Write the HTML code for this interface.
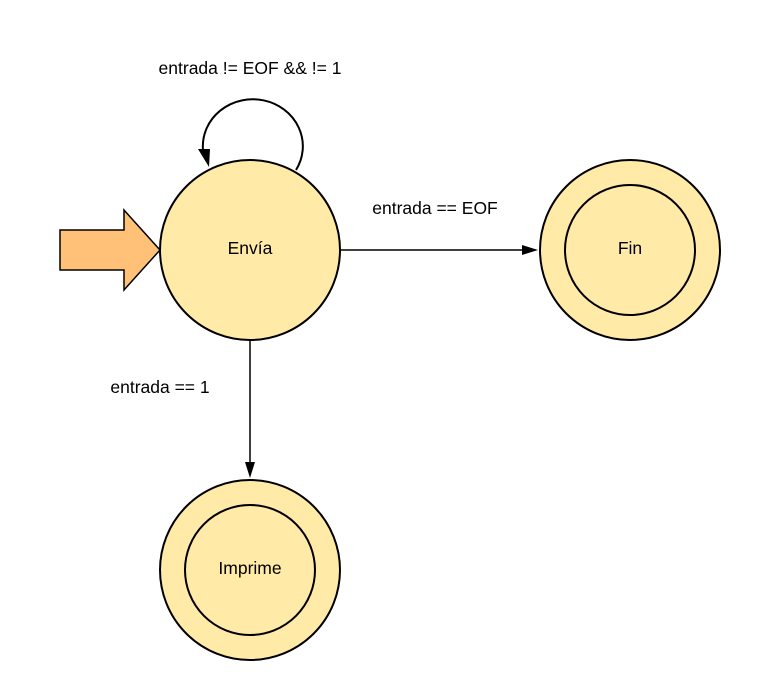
<!DOCTYPE html>
<html><head><meta charset="utf-8"><style>body{margin:0;background:#fff;overflow:hidden}svg{display:block}</style></head><body>
<svg width="760" height="700" viewBox="0 0 760 700" xmlns="http://www.w3.org/2000/svg" font-family="Liberation Sans, sans-serif" font-size="17.5">
<rect width="760" height="700" fill="#fff"/>
<polygon points="60,230 124,230 124,210 160,250 124,290 124,270 60,270" fill="#ffc177" stroke="#000" stroke-width="1.5"/>
<path d="M296,170 A50,47 0 1 0 203,150" fill="none" stroke="#000" stroke-width="2"/>
<polygon points="198,149 210,149 209,167" fill="#000"/>
<line x1="340" y1="250" x2="524" y2="250" stroke="#000" stroke-width="1.5"/>
<polygon points="522,245 538,250 522,255" fill="#000"/>
<line x1="250" y1="340" x2="250" y2="464" stroke="#000" stroke-width="1.5"/>
<polygon points="245,462 250,478 255,462" fill="#000"/>
<circle cx="250" cy="250" r="90" fill="#ffeaa8" stroke="#000" stroke-width="2"/>
<circle cx="630" cy="250" r="90" fill="#ffeaa8" stroke="#000" stroke-width="2"/>
<circle cx="630" cy="250" r="65" fill="#ffeaa8" stroke="#000" stroke-width="2"/>
<circle cx="250" cy="570" r="90" fill="#ffeaa8" stroke="#000" stroke-width="2"/>
<circle cx="250" cy="570" r="65" fill="#ffeaa8" stroke="#000" stroke-width="2"/>
<text x="250" y="254" text-anchor="middle">Envía</text>
<text x="630" y="254" text-anchor="middle">Fin</text>
<text x="250" y="574" text-anchor="middle">Imprime</text>
<text x="250" y="74" text-anchor="middle">entrada != EOF &amp;&amp; != 1</text>
<text x="435" y="214" text-anchor="middle">entrada == EOF</text>
<text x="160" y="393" text-anchor="middle">entrada == 1</text>
</svg>
</body></html>
